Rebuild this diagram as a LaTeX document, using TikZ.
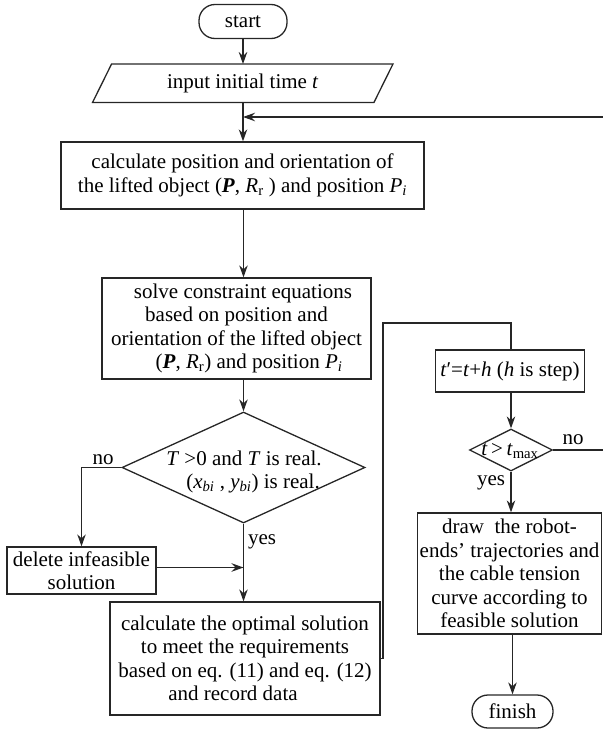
\documentclass[tikz,border=0pt]{standalone}
\usepackage{fontspec}
\setmainfont{Liberation Serif}
\usetikzlibrary{arrows.meta,shapes.geometric,calc}
\tikzset{
  ln/.style={line width=1.3bp,draw=black!85},
  arr/.style={ln,-{Stealth[length=12bp,width=8.5bp,inset=4bp,fill=black!85]}},
  box/.style={ln,rectangle,inner sep=1bp,align=center},
  term/.style={ln,rectangle,rounded corners=16bp,inner sep=0bp,align=center},
  dia/.style={ln,diamond,inner sep=0bp,aspect=2},
  txt/.style={inner sep=0bp,align=center},
}
\begin{document}
\begin{tikzpicture}[x=1bp,y=-1bp,font=\fontsize{21bp}{23.5bp}\selectfont]
\useasboundingbox (0,0) rectangle (603,729);
% left column
\node[term,minimum width=88bp,minimum height=34bp] (start) at (243,21.5) {start};
\node[txt,minimum width=281bp,minimum height=38bp] (in) at (242.75,83.25) {input initial time \textit{t}};
\draw[ln] ([xshift=9.5bp]in.north west) -- ([xshift=9.5bp]in.north east)
  -- ([xshift=-9.5bp]in.south east) -- ([xshift=-9.5bp]in.south west) -- cycle;
\node[box,minimum width=363bp,minimum height=67bp] (b1) at (242.5,175.5)
  {calculate position and orientation of\\the lifted object (\textbf{\textit{P}}, \textit{R}\textsubscript{r} ) and position \textit{P}\textsubscript{\textit{i}}};
\node[box,minimum width=269bp,minimum height=101bp] (b2) at (236.5,328.5)
  {\hspace*{13bp}solve constraint equations\\based on position and\\orientation of the lifted object\\\hspace*{25bp}(\textbf{\textit{P}}, \textit{R}\textsubscript{r}) and position \textit{P}\textsubscript{\textit{i}}};
\node[dia,minimum width=243bp,minimum height=111bp] (d1) at (243.5,467.5) {};
\node[txt] (d1t) at (244,472) {\textit{T} >0 and \textit{T} is real.\\\hspace*{18bp}(\textit{x}\textsubscript{\textit{bi}} , \textit{y}\textsubscript{\textit{bi}}) is real.};
\node[box,minimum width=149bp,minimum height=47bp] (del) at (81.5,570.5) {delete infeasible\\solution};
\node[box,minimum width=270bp,minimum height=113bp] (b3) at (245,658.5)
  {calculate the optimal solution\\to meet the requirements\hspace*{28bp}\\based on eq. (11) and eq. (12)\\and record data\hspace*{24bp}};
% right column
\node[box,minimum width=149bp,minimum height=42bp] (step) at (510,371)
  {\textit{t}′=\textit{t}+\textit{h} (\textit{h} is step)};
\node[dia,minimum width=83bp,minimum height=42bp] (d2) at (511,450) {};
\node[txt] (d2t) at (510,451) {\textit{t}\,>\,\textit{t}\textsubscript{max}};
\node[box,minimum width=184bp,minimum height=121bp] (b4) at (509.5,573.5)
  {draw\ \ the robot-\\ends’ trajectories and\\the cable tension\\curve according to\\feasible solution};
\node[term,minimum width=81bp,minimum height=33bp] (fin) at (512.5,711.5) {finish};
% labels
\node[txt] (no1) at (103,460) {no};
\node[txt] (yes1) at (262,542) {yes};
\node[txt] (no2) at (573,440) {no};
\node[txt] (yes2) at (491,483) {yes};
% coordinates
\coordinate (fbj) at (243,117);
\coordinate (e1) at (610,450);
\coordinate (e2) at (610,117);
\coordinate (lp) at (383,323);
% connectors
\draw[arr] (start.south) -- (start.south |- in.north);
\draw[arr] (fbj |- in.south) -- (fbj |- b1.north);
\draw[arr] (d2.east) -- (e1) -- (e2) -- (fbj);
\draw[arr] (d1.north |- b1.south) -- (d1.north |- b2.north);
\draw[arr] (d1.north |- b2.south) -- (d1.north);
\draw[arr] (d1.west) -| (del.north);
\draw[arr] (d1.south) -- (d1.south |- b3.north);
\draw[arr] ([yshift=3bp]del.east) -- ([yshift=3bp]del.east -| d1.south);
\draw[ln] (b3.east) -| (lp) -| (d2.north |- step.north);
\draw[arr] (d2.north |- step.south) -- (d2.north);
\draw[arr] (d2.south) -- (d2.south |- b4.north);
\draw[arr] (fin.north |- b4.south) -- (fin.north);
\end{tikzpicture}
\end{document}
